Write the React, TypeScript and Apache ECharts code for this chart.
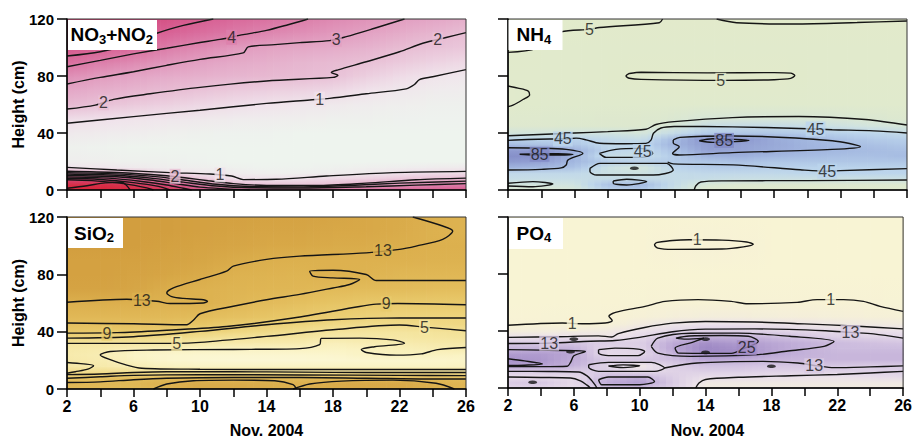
import React, { useEffect, useRef } from 'react';
import * as echarts from 'echarts';

const FONT = '"Liberation Sans", Arial, Helvetica, sans-serif';

// ---------- shared axes ----------
const DAYS = [2, 4, 6, 8, 10, 12, 14, 16, 18, 20, 22, 24, 26];
const X_TICK_LABELS = [2, 6, 10, 14, 18, 22, 26];
const Y_TICKS = [0, 40, 80, 120];

// ---------- NO3+NO2 ----------
const NO3_HEIGHTS = [0, 4, 8, 12, 16, 20, 30, 40, 50, 60, 70, 80, 90, 100, 110, 120];
const NO3_VALUES = [
  [12, 12, 11, 9, 6.5, 5.5, 5.2, 5, 5, 5, 5, 5.2, 5.5],
  [10, 10, 8.5, 6.5, 4, 2.2, 1.9, 1.8, 2, 2.6, 3.2, 3.8, 4.2],
  [7, 6, 5, 3.2, 1.8, 1.1, 1.0, 1.1, 1.3, 1.5, 1.8, 2.0, 2.1],
  [3, 2.6, 2.2, 1.1, 0.9, 0.75, 0.65, 0.65, 0.7, 0.8, 1.0, 1.15, 1.2],
  [1.0, 0.9, 0.8, 0.7, 0.65, 0.6, 0.55, 0.55, 0.6, 0.65, 0.7, 0.75, 0.8],
  [0.7, 0.65, 0.6, 0.6, 0.55, 0.5, 0.5, 0.5, 0.5, 0.5, 0.5, 0.5, 0.5],
  [0.6, 0.55, 0.5, 0.5, 0.5, 0.5, 0.5, 0.5, 0.5, 0.5, 0.5, 0.5, 0.5],
  [0.8, 0.75, 0.7, 0.65, 0.6, 0.55, 0.55, 0.5, 0.5, 0.5, 0.5, 0.5, 0.5],
  [1.15, 1.05, 0.95, 0.88, 0.8, 0.74, 0.7, 0.66, 0.62, 0.6, 0.58, 0.56, 0.55],
  [2.15, 1.95, 1.7, 1.5, 1.3, 1.12, 0.98, 0.88, 0.8, 0.72, 0.66, 0.62, 0.6],
  [2.75, 2.5, 2.3, 2.1, 1.9, 1.7, 1.55, 1.45, 1.3, 1.0, 0.85, 0.75, 0.7],
  [3.5, 3.1, 2.85, 2.6, 2.45, 2.3, 2.2, 2.1, 1.95, 1.55, 1.2, 0.95, 0.85],
  [4.6, 4.1, 3.7, 3.3, 2.95, 2.7, 2.5, 2.3, 2.15, 2.0, 1.7, 1.45, 1.25],
  [5.6, 5.3, 4.8, 4.1, 3.7, 3.2, 2.9, 2.75, 2.6, 2.4, 2.1, 1.9, 1.75],
  [6.3, 6, 5.5, 5, 4.6, 4.2, 3.8, 3.5, 3.2, 2.9, 2.6, 2.3, 2.0],
  [7, 7, 6.5, 6, 5.3, 4.8, 4.5, 4.1, 3.7, 3.4, 3.05, 2.8, 2.5],
];
const NO3_STOPS: [number, string][] = [
  [0.5, '#eef4ee'], [1, '#f0e2eb'], [2, '#e8bfd5'], [3, '#e29fc1'], [4, '#dc80ab'],
  [5, '#d86396'], [6.5, '#d44a7e'], [9, '#d6344f'], [12, '#d8243a'],
];
const NO3_LINES: number[][][] = [
  [[2, 94], [4, 97], [6, 103], [7.4, 110], [9, 115.5], [10.8, 120]],
  [[2, 86.5], [4, 91], [6, 95.5], [8, 99.5], [10, 103.5], [11.2, 105.7], [12.6, 109], [14, 112], [15.3, 116], [16.5, 120]],
  [[2, 74.4], [4, 79], [6, 83], [8, 87.5], [10, 91.7], [12.6, 96.2], [12.9, 100.4], [14.5, 102], [16, 103.4], [17.8, 104.8], [18.8, 107.6], [20.5, 113.5], [22.3, 120]],
  [[2, 56.8], [3.7, 59.6], [4.8, 63.6], [7, 67.5], [10, 72], [14, 76.5], [18, 79], [18.3, 80.5], [17.9, 82.5], [18.3, 84.3], [20, 90], [22, 97], [23.4, 103], [24.8, 107], [26, 110.4]],
  [[2, 46.8], [6, 51.5], [10, 56], [14, 60.8], [16.6, 63.2], [17.8, 64.3], [20, 67.5], [22.4, 71], [22.9, 74], [23.2, 77.5], [24, 79.5], [26, 84.5]],
  [[2, 15.9], [5, 14], [8.2, 12.2], [10.6, 11.2], [11.9, 9.8], [12.6, 7.3], [14.6, 7.5], [17.6, 9.8], [21.6, 12.2], [26, 13.1]],
  [[2, 13.2], [5, 12.3], [7.8, 10.2], [9.2, 8.4], [10.5, 6.5], [12, 4.5], [14, 3.2], [17, 3.2], [20, 4.8], [23, 7.2], [26, 8.3]],
  [[2, 12.2], [5, 11.3], [7.5, 9.2], [9, 7], [11, 4], [13, 2.5], [16, 2.2], [19, 3.2], [22, 4.8], [26, 6.2]],
  [[2, 11.2], [5, 10.3], [7.3, 8], [9, 5.5], [11, 2.8], [13, 1.6], [16, 1.4], [20, 2.3], [23, 3.4], [26, 4.5]],
  [[2, 10.2], [5, 9.3], [7, 7], [8.5, 4.5], [10, 2], [11.5, 0.8], [13, 0]],
  [[2, 9.2], [4.5, 8.3], [6.5, 6], [8, 3.5], [9, 1.2], [9.5, 0]],
  [[2, 8.2], [4, 7.4], [6, 5.2], [7.5, 2.5], [8.2, 0]],
  [[2, 7.2], [3.5, 6.6], [5.5, 4.3], [6.8, 1.5], [7.2, 0]],
  [[2, 1.2], [3.2, 3], [4.3, 5], [5.3, 5.4], [5.6, 3], [5.8, 0]],
];
const NO3_LABELS: [number, number, string][] = [
  [11.9, 107.2, '4'], [18.2, 105.8, '3'], [4.2, 61.2, '2'], [24.3, 105.5, '2'],
  [17.2, 63.7, '1'], [11.2, 10.6, '1'], [8.5, 9.6, '2'],
];

// ---------- NH4 ----------
const NH4_HEIGHTS = [0, 4, 8, 12, 16, 20, 24, 28, 32, 36, 40, 45, 50, 60, 80, 100, 120];
const NH4_VALUES = [
  [22, 22, 25, 45, 50, 35, 18, 16, 16, 16, 16, 16, 16],
  [30, 30, 32, 55, 60, 40, 24, 20, 20, 20, 20, 20, 20],
  [38, 38, 38, 40, 40, 40, 38, 36, 36, 35, 35, 35, 35],
  [42, 42, 42, 36, 34, 40, 42, 42, 42, 44, 45, 45, 45],
  [62, 60, 55, 35, 28, 45, 50, 50, 48, 46, 46, 46, 46],
  [75, 72, 60, 50, 48, 50, 52, 55, 52, 52, 52, 52, 52],
  [82, 80, 62, 38, 36, 50, 62, 64, 60, 58, 56, 56, 58],
  [75, 78, 65, 45, 40, 55, 72, 70, 66, 62, 60, 58, 56],
  [58, 55, 52, 42, 44, 62, 75, 72, 68, 62, 58, 55, 52],
  [45, 44, 46, 42, 38, 58, 80, 78, 67, 60, 55, 50, 48],
  [30, 30, 32, 32, 28, 40, 50, 52, 52, 50, 47, 44, 40],
  [18, 18, 19, 20, 20, 26, 38, 40, 40, 38, 34, 30, 27],
  [14, 15, 16, 17, 18, 22, 26, 26, 26, 25, 24, 22, 20],
  [8, 10, 10, 10, 10, 10, 10, 10, 10, 10, 10, 10, 10],
  [8, 8, 7, 6, 4.5, 4.5, 4.5, 4.5, 4.5, 6, 8, 8, 8],
  [5, 6, 7, 8, 8, 8, 8, 8, 8, 8, 8, 8, 8],
  [3, 3, 3, 4, 4.5, 5, 5, 4.5, 4.5, 4.5, 4.5, 4.5, 4.5],
];
const NH4_STOPS: [number, string][] = [
  [0, '#e3ebca'], [20, '#dde8cf'], [32, '#d0e3e0'], [45, '#bcd5ec'],
  [60, '#a3b8e0'], [75, '#8f9bd0'], [90, '#7c82c0'],
];
const NH4_LINES: number[][][] = [
  [[2, 96.6], [3.7, 99.4], [5.2, 111], [6.9, 112.7], [7.5, 114], [11.1, 117.4], [11.3, 120]],
  [[14.55, 120], [15.75, 117.4], [19.2, 116.5], [23, 117.5], [26, 118.6]],
  [[9.3, 81.8], [10, 82.6], [14, 82.2], [18, 82.4], [19, 82], [19.25, 80.3], [19, 78.3], [18, 77.4], [15, 76.9], [10, 77.6], [9.3, 78.4], [9.1, 80], [9.3, 81.8]],
  [[2, 73], [2.6, 71.5], [3.2, 69.5], [3.3, 66.7], [2.9, 63.5], [2.3, 59.5], [2, 58.5]],
  [[2, 38.1], [6, 40], [8, 41], [10.3, 42.6], [10.9, 46], [12, 48], [15.5, 50.8], [19.5, 51.6], [23.5, 49.5], [26, 45.6]],
  [[2, 34.8], [4.5, 35.8], [5.5, 35.8], [6.1, 36.4], [6.7, 35.2], [7.5, 32.8], [9, 32.5], [10.3, 32.7], [10.6, 35], [10.75, 39.8], [11.2, 43.5], [12, 44.6], [15.5, 44.3], [19.5, 43.2], [21.5, 42.3], [24, 41.5], [26, 40]],
  [[2, 29.7], [4, 29.4], [5.5, 28.5], [6.5, 25.7], [5.6, 21], [5.5, 17.5], [5.2, 15.5], [4, 14.5], [2, 14]],
  [[2.7, 25.1], [4, 25.5], [5, 25.4], [5.9, 25], [5, 24.6], [3.5, 24.6], [2.7, 25.1]],
  [[7.5, 25.7], [8.5, 28.5], [9.9, 29.2], [10.6, 27.5], [10.7, 25.7], [10.1, 22.9], [7.9, 22.9], [7.5, 25.7]],
  [[6.93, 15.2], [7.53, 18.7], [11.54, 18.7], [11.94, 14], [10.74, 10.5], [7.33, 10.5], [6.93, 13], [6.93, 15.2]],
  [[11.6, 19.5], [11.94, 18.3], [15.55, 17.6], [19.57, 14.2], [21.2, 13.2], [22, 13.6], [26, 15]],
  [[11.94, 35.1], [12.34, 36.9], [15.5, 37.9], [21.5, 34.6], [23.2, 30.4], [21.5, 28.5], [15.5, 26.2], [12.3, 24.6], [11.9, 25.7], [12.3, 30.4], [11.94, 33], [11.94, 35.1]],
  [[13.5, 34.6], [14.3, 36], [16.5, 34.8], [14.3, 33.4], [13.5, 34.6]],
  [[2, 4.7], [3.5, 5.9], [4.7, 4.2], [3.5, 2.3], [2, 2.8]],
  [[8.33, 6.3], [9.14, 7.5], [10.34, 5.9], [9.14, 3.5], [8.33, 4.7], [8.33, 6.3]],
  [[13.2, 0], [13.3, 3], [13.6, 5.6], [15, 6.4], [20, 6.6], [26, 7.0]],
];
const NH4_LABELS: [number, number, string][] = [
  [6.9, 112.7, '5'], [14.8, 77, '5'], [5.3, 35.8, '45'], [20.5, 42.8, '45'],
  [10.1, 26.9, '45'], [21.2, 13.2, '45'], [3.9, 25.1, '85'], [15, 34.8, '85'],
];
const NH4_DOTS: number[][] = [[9.6, 15.2]];

// ---------- SiO2 ----------
const SIO2_HEIGHTS = [0, 4, 8, 12, 16, 20, 24, 28, 32, 36, 40, 45, 50, 60, 70, 80, 90, 100, 110, 120];
const SIO2_VALUES = [
  [11, 11, 11, 12, 14, 14, 13.5, 12.5, 13.5, 14, 14, 13, 11.5],
  [12, 12, 12, 13, 14, 14, 13.5, 13, 14, 14.5, 14.5, 13, 12],
  [9.5, 10, 10.5, 11, 11, 11, 11, 11, 11, 11, 11, 11, 10.5],
  [6.5, 6.5, 6.2, 5.8, 5.8, 5.8, 5.8, 5.8, 5.8, 5.8, 5.8, 5.8, 5.8],
  [4.8, 4.5, 4, 3.3, 3, 3, 3, 3, 3, 3, 3, 3, 3.2],
  [4.6, 4.2, 3.2, 2.6, 2.4, 2.3, 2.3, 2.3, 2.4, 2.5, 2.5, 2.6, 2.8],
  [4.4, 4, 2.9, 2.6, 2.5, 2.5, 2.5, 2.5, 2.6, 3, 3.4, 3.2, 3],
  [4.6, 4.3, 3.5, 3.2, 3.1, 3, 3, 3.1, 3, 3.2, 3.6, 3.9, 4.1],
  [5.1, 5, 5, 5, 4.6, 4.4, 4.3, 4.2, 3.5, 4, 4.2, 4.5, 4.6],
  [7.5, 7.2, 7, 6.6, 6, 5.5, 5.3, 5, 4.5, 4.6, 4.8, 5.1, 5.3],
  [9.2, 9, 8.8, 8.5, 7.8, 7.2, 6.6, 6, 5.4, 5.2, 5.2, 5.5, 5.8],
  [10.5, 10.5, 10.3, 10, 9.5, 8.8, 8.2, 7.5, 6.8, 6.4, 6.6, 6.8, 7],
  [11.5, 11.5, 11.5, 11.2, 10.8, 10.2, 9.6, 9, 8.3, 7.8, 7.5, 7.5, 7.5],
  [13, 13.2, 13, 12.5, 13, 11.8, 11, 10.4, 9.8, 9.3, 9, 9, 9],
  [15.5, 15.5, 15, 13.5, 12.8, 12.3, 12, 11.8, 11.2, 11, 11, 10.8, 10.8],
  [16, 16, 15.5, 15, 14, 12.8, 12.5, 12.3, 12.8, 12.5, 11.8, 11.8, 11.8],
  [16, 16, 16, 15.5, 15, 14, 13.2, 12.9, 12.8, 12.8, 12.8, 12.7, 12.7],
  [16.5, 16.5, 16.5, 16, 15.5, 15, 14.5, 14.5, 14, 13.8, 13.3, 13, 13],
  [16.5, 16.5, 16.5, 16.5, 16, 15.5, 15, 15, 14.5, 14.5, 13.8, 12.8, 12.5],
  [16.5, 16.5, 16.5, 16.5, 16, 16, 15.5, 15.5, 15, 14.5, 14, 13, 12.5],
];
const SIO2_STOPS: [number, string][] = [
  [2, '#fcf9dc'], [3, '#faf3c4'], [5, '#f5e6a2'], [7, '#efd884'], [9, '#e9ca6c'],
  [11, '#e2bb5a'], [13, '#dcb04e'], [15, '#d6a545'], [17, '#d19c3d'],
];
const SIO2_LINES: number[][][] = [
  [[22.8, 120], [24.6, 113.7], [25.2, 110.2], [24.6, 104.4], [23, 99.7], [22, 97.4], [20, 95], [16, 92.7], [14, 90.4], [12, 85.7], [11.6, 82.2], [10, 76.4], [8.4, 70.5], [8, 67], [8.3, 64.5], [9, 63.2], [10.2, 62.3], [10.45, 61], [10.2, 60], [8.2, 59.6], [7.4, 61.2], [5.6, 62.6], [2, 60.5]],
  [[26, 75.7], [20.6, 75.7], [20, 79.9], [18, 82.9], [16.6, 82.2], [16.8, 78.7], [18, 77.5], [19.6, 76.4], [19, 72.9], [18, 70.5], [16, 66], [14, 62.3], [12, 57.7], [10, 52.5], [9.6, 48], [9.2, 44.8], [6, 45.5], [2, 46]],
  [[2, 39], [5, 39.3], [8, 41], [11.6, 43.6], [15.6, 49.5], [19.6, 57.6], [20.6, 59.2], [21.9, 59.6], [26, 58.8]],
  [[2, 35.5], [6, 36.5], [10, 40.2], [14, 44.8], [18, 48.3], [22, 49.6], [26, 49.5]],
  [[2, 31.8], [6, 31.8], [8.6, 31.8], [10, 32.5], [14, 36.7], [18, 41.3], [22, 44.6], [23.5, 43.2], [26, 40.6]],
  [[26, 29], [24.3, 27.5], [23.3, 24.5], [21.8, 23.6], [20, 25.5], [19.7, 27.5], [20.5, 29.5], [22.3, 32], [21.6, 34.3], [19.6, 35.5], [17.3, 35.3], [17.2, 31], [16, 28.2], [12, 27.6], [7.2, 27.2], [4.6, 26.2], [4, 23.8], [4.6, 20.5], [5.5, 17], [6.5, 14.5], [10, 13.8], [16, 13.6], [22, 13.6], [26, 13.6]],
  [[2, 18.5], [3, 17.5], [3.6, 16.3], [3.3, 14], [2.5, 12], [2, 11]],
  [[2, 10], [4, 10.5], [6, 11.5], [8, 12], [12, 12], [16, 11.8], [20, 11.5], [26, 11.5]],
  [[2, 7.5], [4, 8.5], [6, 9.5], [10, 10], [16, 9.8], [22, 9.5], [26, 9.3]],
  [[2, 4.5], [4, 5], [6, 6.5], [8, 7.5], [12, 8], [16, 8], [20, 7.5], [24, 7], [26, 7]],
  [[7.2, 0], [8, 3.5], [9.6, 5.8], [12, 6.2], [14.5, 5.8], [15.6, 3], [15.8, 0]],
  [[15.6, 0], [16.6, 3.5], [18.5, 5.5], [21.6, 6.2], [24.2, 4], [25.3, 0]],
];
const SIO2_LABELS: [number, number, string][] = [
  [21, 96.3, '13'], [6.5, 62, '13'], [4.4, 39, '9'], [21.2, 59.4, '9'], [8.6, 31.8, '5'], [23.5, 43, '5'],
];

// ---------- PO4 ----------
const PO4_HEIGHTS = [0, 4, 8, 12, 16, 20, 24, 28, 32, 36, 40, 45, 50, 60, 80, 100, 120];
const PO4_VALUES = [
  [10, 10, 8, 14, 15, 11, 4, 4, 4, 4, 4, 4, 4],
  [13, 14, 9, 19, 22, 13, 5, 5, 5, 5, 5, 5, 5],
  [8, 8, 9, 16, 18, 12, 8, 8, 8, 7, 7, 8, 9],
  [13, 13, 13, 12, 8, 11, 12, 12, 11, 11, 11, 11, 12],
  [22, 21, 18, 11, 5, 12, 15, 15, 14, 14, 14, 13, 13],
  [24, 23, 19, 13, 14, 15, 20, 18, 17, 17, 17, 17, 17],
  [22, 22, 20, 9, 10, 17, 24, 25, 20, 18, 17, 17, 17],
  [17, 18, 18, 10, 11, 20, 26, 24, 21, 18, 16, 16, 16],
  [13, 13, 14, 12, 12, 19, 24, 22, 20, 18, 16, 15, 14],
  [7, 7, 7, 6, 9, 15, 18, 18, 16, 14, 12, 11, 10],
  [3, 3.5, 4, 4.5, 7, 10, 12, 12, 11, 10, 9, 8, 7],
  [0.9, 1, 1, 1.2, 4, 6, 7, 7, 6.5, 6, 5, 4.5, 4],
  [0.75, 0.75, 0.8, 0.9, 1.6, 2.5, 3, 3, 2.8, 2.6, 2.3, 2, 1.6],
  [0.6, 0.6, 0.6, 0.7, 0.85, 1, 1.05, 1, 0.9, 0.95, 1.05, 0.95, 0.8],
  [0.5, 0.5, 0.5, 0.5, 0.5, 0.5, 0.5, 0.5, 0.5, 0.5, 0.5, 0.5, 0.5],
  [0.5, 0.5, 0.5, 0.5, 0.6, 1.2, 1.3, 1.2, 0.6, 0.5, 0.5, 0.5, 0.5],
  [0.4, 0.4, 0.4, 0.4, 0.4, 0.4, 0.4, 0.4, 0.4, 0.4, 0.4, 0.4, 0.4],
];
const PO4_STOPS: [number, string][] = [
  [0, '#f9f6d3'], [1, '#f7f2d5'], [4, '#f1ebdf'], [7, '#ebe1ea'], [13, '#d9cbe4'],
  [19, '#bfacd7'], [25, '#a18cc6'], [30, '#8b75b7'],
];
const PO4_LINES: number[][][] = [
  [[11, 102], [12, 103.5], [13, 104], [15, 103.8], [16.5, 102.5], [16.9, 100.8], [16.3, 99], [15, 97.5], [12, 97.3], [11.1, 98.2], [10.9, 100.5], [11, 102]],
  [[2, 44], [5.3, 45.6], [6.5, 45.1], [7.9, 45.6], [8.33, 47.4], [8.13, 50.3], [8.53, 53.1], [10.33, 57.3], [11.54, 60.8], [13.55, 62], [15.55, 60.8], [16.56, 59.1], [19.57, 60.1], [20.78, 62], [22.38, 62], [23.59, 60.8], [24.6, 57.3], [26, 53.8]],
  [[2, 35.5], [5, 36], [7.5, 36.6], [8.3, 35.8], [8.7, 38.2], [10.3, 42.5], [12, 45.5], [14, 46.7], [17, 46.3], [20, 45], [23, 43.5], [26, 41.5]],
  [[2, 31.2], [4.5, 31.5], [7, 32.8], [8.5, 33.3], [10, 35.5], [12, 39.5], [14, 41.3], [17, 41.5], [21.3, 40.2], [22.8, 39], [24.2, 38], [26, 35]],
  [[2, 26.9], [4, 26.6], [6, 26.2], [6.7, 25.7], [6, 22.6], [5.8, 18], [5.6, 15.3], [4, 15], [2, 15]],
  [[2, 20.5], [3, 19], [4.1, 16.8], [3, 16], [2, 15.8]],
  [[7.5, 26.9], [8.5, 28], [9.9, 27.3], [10.3, 25.7], [9.9, 22.7], [8.1, 22.7], [7.5, 24.5], [7.5, 26.9]],
  [[10.7, 29.2], [11.1, 35], [13.1, 38.4], [16, 38.5], [19.1, 36.3], [21.8, 32.7], [21.2, 29.2], [19, 26], [17.2, 23.4], [13.1, 22.2], [11.1, 24.5], [10.7, 29.2]],
  [[12.2, 35], [13, 36.5], [15, 36.8], [16.6, 36.3], [17.2, 32.7], [16.4, 28.1], [15.56, 24.3], [12.35, 24.5], [12.15, 28], [13.2, 32], [13.9, 35], [12.8, 34.3], [12.2, 35]],
  [[6.9, 16.3], [8.1, 18], [10.7, 18], [11.5, 14], [10.9, 11.7], [7.5, 11.7], [6.9, 14.5], [6.9, 16.3]],
  [[8.1, 15.4], [9, 16.2], [10, 15.6], [9, 14.3], [8.1, 15.4]],
  [[7.5, 5.8], [8.1, 7.7], [10.5, 7.7], [10.9, 4.6], [10, 2.3], [7.7, 2.3], [7.5, 5.8]],
  [[2, 11.7], [4.5, 11.6], [6.3, 11.2], [6.8, 8.5], [7.1, 5], [7.3, 2], [7.4, 0]],
  [[2, 7.7], [4, 7.4], [5.8, 7], [6.4, 5], [6.8, 2], [7, 0]],
  [[11.5, 14], [13.5, 17.5], [17.5, 18.7], [19.6, 17.5], [20.8, 15.5], [21.8, 14.3], [24, 14.8], [26, 15.5]],
  [[13.4, 0], [13.6, 3.5], [14, 6], [16, 7.5], [19.2, 8.6], [22, 9.5], [24, 10.5], [26, 11.7]],
];
const PO4_LABELS: [number, number, string][] = [
  [13.5, 104, '1'], [5.9, 45.2, '1'], [21.6, 61.8, '1'], [4.5, 31.4, '13'],
  [22.8, 38.9, '13'], [20.6, 15.6, '13'], [16.5, 28.3, '25'],
];
const PO4_DOTS: number[][] = [[3.5, 4], [14, 34.3], [6, 34.3], [5.8, 25.4], [18, 15.2], [14, 25]];

// ---------- helpers ----------
function hexToRgb(h: string) {
  const n = parseInt(h.slice(1), 16);
  return [(n >> 16) & 255, (n >> 8) & 255, n & 255];
}
function makeScale(stops: [number, string][]) {
  const s = stops.map(([v, c]) => [v, hexToRgb(c)] as [number, number[]]);
  const toStr = (c: number[]) => `rgb(${Math.round(c[0])},${Math.round(c[1])},${Math.round(c[2])})`;
  return (v: number) => {
    if (v <= s[0][0]) return toStr(s[0][1]);
    for (let k = 1; k < s.length; k++) {
      if (v <= s[k][0]) {
        const t = (v - s[k - 1][0]) / (s[k][0] - s[k - 1][0]);
        const a = s[k - 1][1], b = s[k][1];
        return toStr([a[0] + (b[0] - a[0]) * t, a[1] + (b[1] - a[1]) * t, a[2] + (b[2] - a[2]) * t]);
      }
    }
    return toStr(s[s.length - 1][1]);
  };
}

const GRIDS = [
  { left: 67, top: 19, width: 399, height: 171 },
  { left: 508, top: 19, width: 399, height: 171 },
  { left: 67, top: 217, width: 399, height: 172 },
  { left: 508, top: 217, width: 399, height: 171 },
];

const PANELS = [
  { heights: NO3_HEIGHTS, values: NO3_VALUES, stops: NO3_STOPS, lines: NO3_LINES, labels: NO3_LABELS, dots: [] as number[][] },
  { heights: NH4_HEIGHTS, values: NH4_VALUES, stops: NH4_STOPS, lines: NH4_LINES, labels: NH4_LABELS, dots: NH4_DOTS },
  { heights: SIO2_HEIGHTS, values: SIO2_VALUES, stops: SIO2_STOPS, lines: SIO2_LINES, labels: SIO2_LABELS, dots: [] as number[][] },
  { heights: PO4_HEIGHTS, values: PO4_VALUES, stops: PO4_STOPS, lines: PO4_LINES, labels: PO4_LABELS, dots: PO4_DOTS },
];

const TITLES = [
  { x: 68, y: 20, w: 89, h: 30, tx: 70.5, ty: 34.5, text: '{b|NO}{s|3}{b|+NO}{s|2}' },
  { x: 508.5, y: 20, w: 54, h: 30, tx: 516.5, ty: 34.5, text: '{b|NH}{s|4}' },
  { x: 68, y: 218, w: 55, h: 30, tx: 74, ty: 233, text: '{b|SiO}{s|2}' },
  { x: 509, y: 218, w: 54, h: 31, tx: 516.5, ty: 233, text: '{b|PO}{s|4}' },
];

const STRIPS = 5; // rendering sub-strips per cell (shading only)

function buildOption() {
  const series: any[] = [];
  PANELS.forEach((p, gi) => {
    const cf = makeScale(p.stops);
    const cells: number[][] = [];
    for (let j = 0; j < p.heights.length - 1; j++) {
      for (let i = 0; i < DAYS.length - 1; i++) cells.push([DAYS[i], p.heights[j], i, j]);
    }
    series.push({
      type: 'custom',
      xAxisIndex: gi,
      yAxisIndex: gi,
      silent: true,
      clip: true,
      z: 1,
      encode: { x: 0, y: 1 },
      data: cells,
      renderItem: (params: any, api: any) => {
        const i = api.value(2) as number;
        const j = api.value(3) as number;
        const v = p.values;
        const children: any[] = [];
        const xa = DAYS[i], xb = DAYS[i + 1];
        for (let k = 0; k < STRIPS; k++) {
          const t = (k + 0.5) / STRIPS;
          const bot = v[j][i] + (v[j][i + 1] - v[j][i]) * t;
          const top = v[j + 1][i] + (v[j + 1][i + 1] - v[j + 1][i]) * t;
          const x0 = xa + ((xb - xa) * k) / STRIPS;
          const x1 = xa + ((xb - xa) * (k + 1)) / STRIPS;
          const a = api.coord([x0, p.heights[j + 1]]);
          const b = api.coord([x1, p.heights[j]]);
          children.push({
            type: 'rect',
            shape: { x: a[0], y: a[1], width: b[0] - a[0] + 0.7, height: b[1] - a[1] + 0.7 },
            style: {
              fill: new echarts.graphic.LinearGradient(0, 0, 0, 1, [
                { offset: 0, color: cf(top) },
                { offset: 1, color: cf(bot) },
              ]),
            },
          });
        }
        return { type: 'group', children };
      },
    });
    p.lines.forEach((pts) => {
      series.push({
        type: 'line',
        xAxisIndex: gi,
        yAxisIndex: gi,
        data: pts,
        symbol: 'none',
        smooth: 0.3,
        silent: true,
        z: 3,
        lineStyle: { color: '#151515', width: 1.4 },
      });
    });
    if (p.dots.length) {
      series.push({
        type: 'scatter',
        xAxisIndex: gi,
        yAxisIndex: gi,
        data: p.dots,
        symbol: 'circle',
        symbolSize: [9, 3.5],
        itemStyle: { color: '#151515' },
        silent: true,
        z: 3,
      });
    }
    series.push({
      type: 'scatter',
      xAxisIndex: gi,
      yAxisIndex: gi,
      symbolSize: 1,
      itemStyle: { color: 'rgba(0,0,0,0)' },
      silent: true,
      z: 4,
      data: p.labels.map(([x, y, t]) => ({
        value: [x, y],
        name: t,
        label: { backgroundColor: cf(Number(t)) },
      })),
      label: {
        show: true,
        position: 'inside',
        formatter: '{b}',
        fontSize: 16,
        lineHeight: 15,
        padding: [0, 1],
        color: '#151515',
        fontFamily: FONT,
      },
    });
  });

  const graphic: any[] = [];
  TITLES.forEach((t) => {
    graphic.push({ type: 'rect', left: t.x, top: t.y, shape: { width: t.w, height: t.h }, style: { fill: '#ffffff' }, z: 20 });
    graphic.push({
      type: 'text',
      x: t.tx,
      y: t.ty,
      z: 21,
      style: {
        text: t.text,
        verticalAlign: 'middle',
        align: 'left',
        fill: '#000',
        rich: {
          b: { fontSize: 19, fontWeight: 'bold', fontFamily: FONT, lineHeight: 22, fill: '#000' },
          s: { fontSize: 13, fontWeight: 'bold', fontFamily: FONT, lineHeight: 14, verticalAlign: 'bottom', fill: '#000' },
        },
      },
    });
  });
  [104.5, 303].forEach((cy) => {
    graphic.push({
      type: 'text',
      x: 18.5,
      y: cy,
      rotation: Math.PI / 2,
      z: 21,
      style: { text: 'Height (cm)', align: 'center', verticalAlign: 'middle', fontSize: 16, fontWeight: 'bold', fontFamily: FONT, fill: '#000' },
    });
  });
  [266.5, 707.5].forEach((cx) => {
    graphic.push({
      type: 'text',
      x: cx,
      y: 430,
      z: 21,
      style: { text: 'Nov. 2004', align: 'center', verticalAlign: 'middle', fontSize: 16, fontWeight: 'bold', fontFamily: FONT, fill: '#000' },
    });
  });

  return {
    animation: false,
    backgroundColor: '#ffffff',
    grid: GRIDS.map((g) => ({ ...g, show: true, borderColor: '#333', borderWidth: 1, backgroundColor: 'transparent', z: 10 })),
    xAxis: GRIDS.map((g, i) => ({
      gridIndex: i,
      type: 'value',
      min: 2,
      max: 26,
      interval: 2,
      z: 10,
      axisLine: { show: true, onZero: false, lineStyle: { color: '#000', width: 1.5 } },
      axisTick: { show: true, length: 8, lineStyle: { color: '#000', width: 1.5 } },
      axisLabel: {
        show: i >= 2,
        margin: 9,
        fontSize: 16,
        fontWeight: 'bold',
        fontFamily: FONT,
        color: '#000',
        formatter: (v: number) => (X_TICK_LABELS.indexOf(v) >= 0 ? String(v) : ''),
      },
      splitLine: { show: false },
    })),
    yAxis: GRIDS.map((g, i) => ({
      gridIndex: i,
      type: 'value',
      min: Y_TICKS[0],
      max: Y_TICKS[Y_TICKS.length - 1],
      interval: 40,
      z: 10,
      axisLine: { show: true, onZero: false, lineStyle: { color: '#000', width: 1.5 } },
      axisTick: { show: true, length: 10, lineStyle: { color: '#000', width: 1.5 } },
      axisLabel: {
        show: i % 2 === 0,
        margin: 13,
        fontSize: 15,
        fontWeight: 'bold',
        fontFamily: FONT,
        color: '#000',
      },
      splitLine: { show: false },
    })),
    series,
    graphic,
  };
}

export default function App() {
  const ref = useRef<HTMLDivElement | null>(null);
  useEffect(() => {
    if (!ref.current) return;
    const chart = echarts.init(ref.current, undefined, { renderer: 'svg' });
    chart.setOption(buildOption() as any);
    return () => chart.dispose();
  }, []);
  return <div ref={ref} style={{ position: 'absolute', left: 0, top: 0, width: 915, height: 437, background: '#fff' }} />;
}
